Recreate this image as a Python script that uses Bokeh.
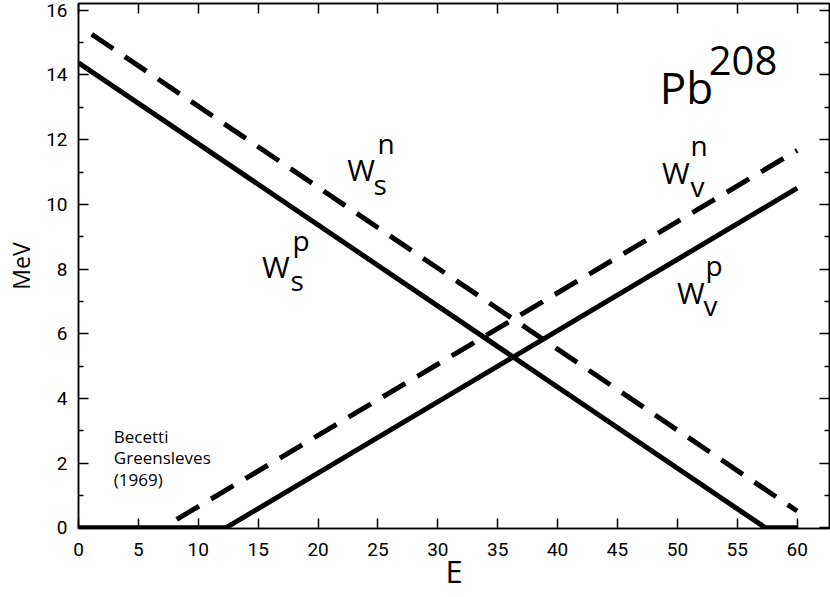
from bokeh.plotting import figure
from bokeh.models import LinearAxis, FixedTicker, Range1d
from bokeh.core.properties import value
from bokeh.embed import file_html
from bokeh.resources import INLINE

# ---- data ----
x_ticks = [0, 5, 10, 15, 20, 25, 30, 35, 40, 45, 50, 55, 60]
y_ticks = [0, 2, 4, 6, 8, 10, 12, 14, 16]
y_minor = [1, 3, 5, 7, 9, 11, 13, 15]

ws_p_E = [0, 57.35, 60]
ws_p_W = [14.38, 0, 0]
ws_n_E = [1.1, 60]
ws_n_W = [15.26, 0.52]
wv_p_E = [0, 12.3, 60]
wv_p_W = [0, 0, 10.5]
wv_n_E = [8.2, 60]
wv_n_W = [0.26, 11.67]

# label texts and anchor positions (data units)
big_txt = ["W", "W", "W", "W"]
big_x = [22.43, 15.33, 48.72, 49.97]
big_y = [10.74, 7.75, 10.64, 6.93]
sub_txt = ["s", "s", "v", "v"]
sub_x = [24.62, 17.70, 51.09, 52.17]
sub_y = [10.31, 7.34, 10.25, 6.57]
sup_txt = ["n", "p", "n", "p"]
sup_x = [24.96, 17.86, 51.09, 52.34]
sup_y = [11.58, 8.58, 11.52, 7.81]

note_txt = ["Becetti", "Greensleves", "(1969)"]
note_x = [2.95, 2.95, 2.95]
note_y = [2.65, 1.98, 1.31]

FONT = "Open Sans"
TICKFONT = "Roboto"

p = figure(width=830, height=597, output_backend="svg", toolbar_location=None,
           x_range=Range1d(0, 62.7), y_range=Range1d(-0.02, 16.21),
           x_axis_location=None, y_axis_location=None,
           min_border_left=78, min_border_right=1, min_border_top=3, min_border_bottom=69)
p.xgrid.visible = False
p.ygrid.visible = False
p.outline_line_color = "black"
p.outline_line_width = 1.5
p.background_fill_color = "white"
p.border_fill_color = "white"


def style_axis(ax, ticker, show_labels):
    ax.ticker = ticker
    ax.axis_line_color = "black"
    ax.axis_line_width = 1.5
    ax.major_tick_line_color = "black"
    ax.major_tick_line_width = 1.5
    ax.minor_tick_line_color = "black"
    ax.minor_tick_line_width = 1.5
    ax.major_tick_in = 10
    ax.major_tick_out = 0
    ax.minor_tick_in = 5
    ax.minor_tick_out = 0
    if show_labels:
        ax.major_label_text_font = TICKFONT
        ax.major_label_text_font_size = "19px"
        ax.major_label_text_color = "black"
    else:
        ax.major_label_overrides = {t: "" for t in ticker.ticks}
        ax.major_label_text_font_size = "1px"
        ax.major_label_standoff = 0


xb = LinearAxis()
style_axis(xb, FixedTicker(ticks=x_ticks, minor_ticks=[]), True)
xb.major_label_standoff = 14
xb.axis_label = "E"
xb.axis_label_text_font = FONT
xb.axis_label_text_font_size = "31px"
xb.axis_label_text_font_style = "normal"
xb.axis_label_text_color = "black"
xb.axis_label_standoff = -9
p.add_layout(xb, "below")

yl = LinearAxis()
style_axis(yl, FixedTicker(ticks=y_ticks, minor_ticks=y_minor), True)
yl.major_label_standoff = 11
yl.axis_label = "MeV"
yl.axis_label_text_font = FONT
yl.axis_label_text_font_size = "23px"
yl.axis_label_text_font_style = "normal"
yl.axis_label_text_color = "black"
yl.axis_label_standoff = 6
p.add_layout(yl, "left")

xt = LinearAxis()
style_axis(xt, FixedTicker(ticks=x_ticks, minor_ticks=[]), False)
p.add_layout(xt, "above")

yr = LinearAxis()
style_axis(yr, FixedTicker(ticks=y_ticks, minor_ticks=y_minor), False)
p.add_layout(yr, "right")

# ---- curves ----
LW = 5
p.line(ws_p_E, ws_p_W, line_color="black", line_width=LW)
p.line(wv_p_E, wv_p_W, line_color="black", line_width=LW)
p.line(ws_n_E, ws_n_W, line_color="black", line_width=LW, line_dash="26 14")
p.line(wv_n_E, wv_n_W, line_color="black", line_width=LW, line_dash="26 14")

# ---- labels ----
p.text(big_x, big_y, text=big_txt, text_font=value(FONT), text_font_size="30px",
       text_color="black", text_align="left", text_baseline="alphabetic", y_offset=-11)
p.text(sub_x, sub_y, text=sub_txt, text_font=value(FONT), text_font_size="28px",
       text_color="black", text_align="left", text_baseline="alphabetic", y_offset=-10)
p.text(sup_x, sup_y, text=sup_txt, text_font=value(FONT), text_font_size="28px",
       text_color="black", text_align="left", text_baseline="alphabetic", y_offset=-10)

p.text([48.52], [13.12], text=["Pb"], text_font=value(FONT), text_font_size="44px",
       text_color="black", text_align="left", text_baseline="alphabetic", y_offset=-16)
p.text([52.61], [13.99], text=["208"], text_font=value(FONT), text_font_size="40px",
       text_color="black", text_align="left", text_baseline="alphabetic", y_offset=-15)

p.text(note_x, note_y, text=note_txt, text_font=value(FONT), text_font_size="17px",
       text_color="black", text_align="left", text_baseline="alphabetic", y_offset=-6)

open("out.html", "w").write(file_html(p, INLINE))
